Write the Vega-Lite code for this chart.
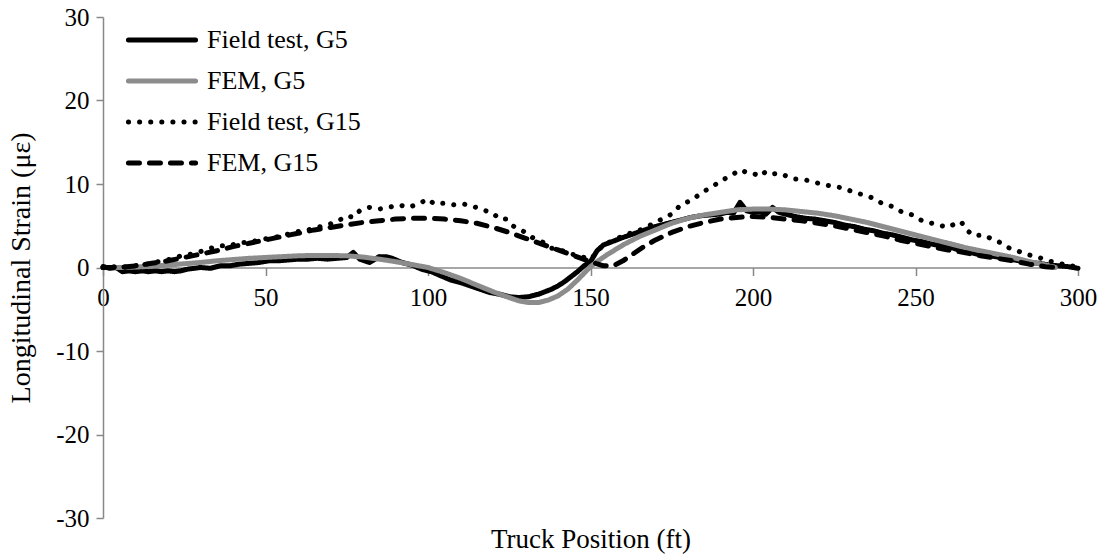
{
  "$schema": "https://vega.github.io/schema/vega-lite/v6.json",
  "width": 975,
  "height": 501,
  "autosize": {"type": "none"},
  "padding": {"left": 103, "top": 17, "right": 30, "bottom": 39},
  "background": "white",
  "config": {
    "font": "Liberation Serif",
    "view": {"stroke": null},
    "axis": {"grid": false, "domainColor": "#888888", "tickColor": "#888888", "domainWidth": 1.5, "tickWidth": 1.5, "labelColor": "black", "titleColor": "black", "labelFont": "Liberation Serif", "titleFont": "Liberation Serif", "titleFontWeight": "normal"},
    "legend": {"labelFont": "Liberation Serif", "labelColor": "black"}
  },
  "datasets": {
    "d": [
      {"s":"Field test, G5","x":0,"y":0.1},{"s":"Field test, G5","x":2,"y":-0.1},{"s":"Field test, G5","x":4,"y":0.0},{"s":"Field test, G5","x":6,"y":-0.5},{"s":"Field test, G5","x":8,"y":-0.4},{"s":"Field test, G5","x":10,"y":-0.5},{"s":"Field test, G5","x":12,"y":-0.4},{"s":"Field test, G5","x":14,"y":-0.5},{"s":"Field test, G5","x":16,"y":-0.4},{"s":"Field test, G5","x":18,"y":-0.5},{"s":"Field test, G5","x":20,"y":-0.4},{"s":"Field test, G5","x":22,"y":-0.5},{"s":"Field test, G5","x":24,"y":-0.4},{"s":"Field test, G5","x":26,"y":-0.2},{"s":"Field test, G5","x":28,"y":-0.1},{"s":"Field test, G5","x":30,"y":0.0},{"s":"Field test, G5","x":33,"y":-0.1},{"s":"Field test, G5","x":36,"y":0.2},{"s":"Field test, G5","x":39,"y":0.2},{"s":"Field test, G5","x":42,"y":0.4},{"s":"Field test, G5","x":45,"y":0.5},{"s":"Field test, G5","x":48,"y":0.6},{"s":"Field test, G5","x":51,"y":0.8},{"s":"Field test, G5","x":54,"y":0.8},{"s":"Field test, G5","x":57,"y":0.9},{"s":"Field test, G5","x":60,"y":1.0},{"s":"Field test, G5","x":63,"y":1.0},{"s":"Field test, G5","x":66,"y":1.1},{"s":"Field test, G5","x":69,"y":1.0},{"s":"Field test, G5","x":72,"y":1.1},{"s":"Field test, G5","x":75,"y":1.2},{"s":"Field test, G5","x":77,"y":1.8},{"s":"Field test, G5","x":79,"y":1.0},{"s":"Field test, G5","x":82,"y":0.6},{"s":"Field test, G5","x":85,"y":1.3},{"s":"Field test, G5","x":87,"y":1.3},{"s":"Field test, G5","x":89,"y":1.1},{"s":"Field test, G5","x":92,"y":0.6},{"s":"Field test, G5","x":95,"y":0.3},{"s":"Field test, G5","x":98,"y":-0.2},{"s":"Field test, G5","x":101,"y":-0.5},{"s":"Field test, G5","x":104,"y":-1.0},{"s":"Field test, G5","x":107,"y":-1.5},{"s":"Field test, G5","x":110,"y":-1.8},{"s":"Field test, G5","x":113,"y":-2.2},{"s":"Field test, G5","x":116,"y":-2.6},{"s":"Field test, G5","x":119,"y":-3.0},{"s":"Field test, G5","x":122,"y":-3.2},{"s":"Field test, G5","x":125,"y":-3.5},{"s":"Field test, G5","x":128,"y":-3.6},{"s":"Field test, G5","x":131,"y":-3.5},{"s":"Field test, G5","x":134,"y":-3.2},{"s":"Field test, G5","x":136,"y":-2.9},{"s":"Field test, G5","x":138,"y":-2.6},{"s":"Field test, G5","x":140,"y":-2.2},{"s":"Field test, G5","x":142,"y":-1.7},{"s":"Field test, G5","x":144,"y":-1.1},{"s":"Field test, G5","x":146,"y":-0.5},{"s":"Field test, G5","x":148,"y":0.2},{"s":"Field test, G5","x":150,"y":0.7},{"s":"Field test, G5","x":152,"y":2.0},{"s":"Field test, G5","x":154,"y":2.7},{"s":"Field test, G5","x":156,"y":3.0},{"s":"Field test, G5","x":158,"y":3.3},{"s":"Field test, G5","x":160,"y":3.6},{"s":"Field test, G5","x":163,"y":4.0},{"s":"Field test, G5","x":166,"y":4.4},{"s":"Field test, G5","x":169,"y":4.8},{"s":"Field test, G5","x":172,"y":5.1},{"s":"Field test, G5","x":175,"y":5.4},{"s":"Field test, G5","x":178,"y":5.7},{"s":"Field test, G5","x":181,"y":6.0},{"s":"Field test, G5","x":184,"y":6.2},{"s":"Field test, G5","x":187,"y":6.3},{"s":"Field test, G5","x":190,"y":6.4},{"s":"Field test, G5","x":192,"y":6.6},{"s":"Field test, G5","x":194,"y":6.5},{"s":"Field test, G5","x":196,"y":7.8},{"s":"Field test, G5","x":198,"y":6.8},{"s":"Field test, G5","x":200,"y":6.6},{"s":"Field test, G5","x":202,"y":6.7},{"s":"Field test, G5","x":204,"y":6.4},{"s":"Field test, G5","x":206,"y":7.2},{"s":"Field test, G5","x":208,"y":6.6},{"s":"Field test, G5","x":210,"y":6.4},{"s":"Field test, G5","x":213,"y":6.1},{"s":"Field test, G5","x":216,"y":5.9},{"s":"Field test, G5","x":219,"y":5.8},{"s":"Field test, G5","x":222,"y":5.6},{"s":"Field test, G5","x":225,"y":5.4},{"s":"Field test, G5","x":228,"y":5.1},{"s":"Field test, G5","x":231,"y":4.9},{"s":"Field test, G5","x":234,"y":4.6},{"s":"Field test, G5","x":237,"y":4.4},{"s":"Field test, G5","x":240,"y":4.1},{"s":"Field test, G5","x":243,"y":3.9},{"s":"Field test, G5","x":246,"y":3.6},{"s":"Field test, G5","x":249,"y":3.3},{"s":"Field test, G5","x":252,"y":3.1},{"s":"Field test, G5","x":255,"y":2.8},{"s":"Field test, G5","x":258,"y":2.6},{"s":"Field test, G5","x":261,"y":2.4},{"s":"Field test, G5","x":264,"y":2.0},{"s":"Field test, G5","x":267,"y":1.8},{"s":"Field test, G5","x":270,"y":1.5},{"s":"Field test, G5","x":273,"y":1.4},{"s":"Field test, G5","x":276,"y":1.2},{"s":"Field test, G5","x":279,"y":1.0},{"s":"Field test, G5","x":282,"y":0.8},{"s":"Field test, G5","x":285,"y":0.6},{"s":"Field test, G5","x":288,"y":0.5},{"s":"Field test, G5","x":291,"y":0.3},{"s":"Field test, G5","x":294,"y":0.2},{"s":"Field test, G5","x":297,"y":0.1},{"s":"Field test, G5","x":300,"y":-0.1},

      {"s":"FEM, G5","x":0,"y":0},{"s":"FEM, G5","x":5,"y":0.0},{"s":"FEM, G5","x":10,"y":0.05},{"s":"FEM, G5","x":15,"y":0.15},{"s":"FEM, G5","x":20,"y":0.3},{"s":"FEM, G5","x":25,"y":0.45},{"s":"FEM, G5","x":30,"y":0.6},{"s":"FEM, G5","x":35,"y":0.8},{"s":"FEM, G5","x":40,"y":0.95},{"s":"FEM, G5","x":45,"y":1.1},{"s":"FEM, G5","x":50,"y":1.2},{"s":"FEM, G5","x":55,"y":1.3},{"s":"FEM, G5","x":60,"y":1.4},{"s":"FEM, G5","x":65,"y":1.45},{"s":"FEM, G5","x":70,"y":1.45},{"s":"FEM, G5","x":75,"y":1.4},{"s":"FEM, G5","x":80,"y":1.25},{"s":"FEM, G5","x":85,"y":1.0},{"s":"FEM, G5","x":90,"y":0.7},{"s":"FEM, G5","x":95,"y":0.35},{"s":"FEM, G5","x":100,"y":0.0},{"s":"FEM, G5","x":105,"y":-0.6},{"s":"FEM, G5","x":110,"y":-1.3},{"s":"FEM, G5","x":115,"y":-2.1},{"s":"FEM, G5","x":120,"y":-2.9},{"s":"FEM, G5","x":125,"y":-3.6},{"s":"FEM, G5","x":128,"y":-4.0},{"s":"FEM, G5","x":131,"y":-4.2},{"s":"FEM, G5","x":134,"y":-4.2},{"s":"FEM, G5","x":137,"y":-3.9},{"s":"FEM, G5","x":140,"y":-3.4},{"s":"FEM, G5","x":143,"y":-2.6},{"s":"FEM, G5","x":146,"y":-1.5},{"s":"FEM, G5","x":148,"y":-0.7},{"s":"FEM, G5","x":150,"y":0.1},{"s":"FEM, G5","x":152,"y":0.7},{"s":"FEM, G5","x":155,"y":1.5},{"s":"FEM, G5","x":160,"y":2.7},{"s":"FEM, G5","x":165,"y":3.7},{"s":"FEM, G5","x":170,"y":4.5},{"s":"FEM, G5","x":175,"y":5.3},{"s":"FEM, G5","x":180,"y":5.9},{"s":"FEM, G5","x":185,"y":6.3},{"s":"FEM, G5","x":190,"y":6.6},{"s":"FEM, G5","x":195,"y":6.9},{"s":"FEM, G5","x":200,"y":7.0},{"s":"FEM, G5","x":205,"y":7.0},{"s":"FEM, G5","x":210,"y":6.9},{"s":"FEM, G5","x":215,"y":6.7},{"s":"FEM, G5","x":220,"y":6.5},{"s":"FEM, G5","x":225,"y":6.2},{"s":"FEM, G5","x":230,"y":5.8},{"s":"FEM, G5","x":235,"y":5.4},{"s":"FEM, G5","x":240,"y":4.9},{"s":"FEM, G5","x":245,"y":4.4},{"s":"FEM, G5","x":250,"y":3.9},{"s":"FEM, G5","x":255,"y":3.4},{"s":"FEM, G5","x":260,"y":2.9},{"s":"FEM, G5","x":265,"y":2.4},{"s":"FEM, G5","x":270,"y":2.0},{"s":"FEM, G5","x":275,"y":1.6},{"s":"FEM, G5","x":280,"y":1.2},{"s":"FEM, G5","x":285,"y":0.7},{"s":"FEM, G5","x":290,"y":0.3},{"s":"FEM, G5","x":293,"y":0.0},

      {"s":"Field test, G15","x":0,"y":0.0},{"s":"Field test, G15","x":3,"y":0.1},{"s":"Field test, G15","x":6,"y":0.0},{"s":"Field test, G15","x":9,"y":0.2},{"s":"Field test, G15","x":12,"y":0.3},{"s":"Field test, G15","x":15,"y":0.5},{"s":"Field test, G15","x":18,"y":0.8},{"s":"Field test, G15","x":21,"y":1.0},{"s":"Field test, G15","x":24,"y":1.4},{"s":"Field test, G15","x":27,"y":1.6},{"s":"Field test, G15","x":30,"y":1.9},{"s":"Field test, G15","x":33,"y":2.3},{"s":"Field test, G15","x":36,"y":2.6},{"s":"Field test, G15","x":39,"y":2.6},{"s":"Field test, G15","x":42,"y":3.0},{"s":"Field test, G15","x":45,"y":3.0},{"s":"Field test, G15","x":48,"y":3.3},{"s":"Field test, G15","x":51,"y":3.5},{"s":"Field test, G15","x":54,"y":3.7},{"s":"Field test, G15","x":57,"y":4.0},{"s":"Field test, G15","x":60,"y":4.3},{"s":"Field test, G15","x":63,"y":4.5},{"s":"Field test, G15","x":66,"y":4.8},{"s":"Field test, G15","x":69,"y":5.1},{"s":"Field test, G15","x":72,"y":5.5},{"s":"Field test, G15","x":75,"y":6.2},{"s":"Field test, G15","x":77,"y":6.0},{"s":"Field test, G15","x":79,"y":6.8},{"s":"Field test, G15","x":82,"y":7.2},{"s":"Field test, G15","x":85,"y":7.0},{"s":"Field test, G15","x":88,"y":7.2},{"s":"Field test, G15","x":91,"y":7.5},{"s":"Field test, G15","x":94,"y":7.2},{"s":"Field test, G15","x":97,"y":7.6},{"s":"Field test, G15","x":100,"y":8.2},{"s":"Field test, G15","x":102,"y":7.6},{"s":"Field test, G15","x":105,"y":7.7},{"s":"Field test, G15","x":108,"y":7.5},{"s":"Field test, G15","x":111,"y":7.6},{"s":"Field test, G15","x":114,"y":7.3},{"s":"Field test, G15","x":117,"y":6.9},{"s":"Field test, G15","x":120,"y":6.5},{"s":"Field test, G15","x":122,"y":5.8},{"s":"Field test, G15","x":124,"y":5.8},{"s":"Field test, G15","x":126,"y":5.0},{"s":"Field test, G15","x":128,"y":4.6},{"s":"Field test, G15","x":130,"y":4.2},{"s":"Field test, G15","x":132,"y":3.6},{"s":"Field test, G15","x":134,"y":3.3},{"s":"Field test, G15","x":136,"y":2.9},{"s":"Field test, G15","x":138,"y":2.3},{"s":"Field test, G15","x":140,"y":2.2},{"s":"Field test, G15","x":142,"y":1.9},{"s":"Field test, G15","x":144,"y":1.6},{"s":"Field test, G15","x":146,"y":1.5},{"s":"Field test, G15","x":148,"y":1.2},{"s":"Field test, G15","x":150,"y":1.0},{"s":"Field test, G15","x":152,"y":1.8},{"s":"Field test, G15","x":154,"y":2.8},{"s":"Field test, G15","x":157,"y":3.2},{"s":"Field test, G15","x":160,"y":3.8},{"s":"Field test, G15","x":163,"y":4.2},{"s":"Field test, G15","x":166,"y":4.6},{"s":"Field test, G15","x":169,"y":5.2},{"s":"Field test, G15","x":172,"y":5.8},{"s":"Field test, G15","x":175,"y":6.4},{"s":"Field test, G15","x":178,"y":7.6},{"s":"Field test, G15","x":181,"y":8.0},{"s":"Field test, G15","x":184,"y":8.9},{"s":"Field test, G15","x":187,"y":9.6},{"s":"Field test, G15","x":190,"y":10.3},{"s":"Field test, G15","x":192,"y":10.8},{"s":"Field test, G15","x":194,"y":11.2},{"s":"Field test, G15","x":196,"y":11.7},{"s":"Field test, G15","x":198,"y":11.4},{"s":"Field test, G15","x":200,"y":11.3},{"s":"Field test, G15","x":202,"y":10.9},{"s":"Field test, G15","x":204,"y":11.5},{"s":"Field test, G15","x":206,"y":11.2},{"s":"Field test, G15","x":208,"y":11.3},{"s":"Field test, G15","x":210,"y":11.0},{"s":"Field test, G15","x":213,"y":10.6},{"s":"Field test, G15","x":216,"y":10.5},{"s":"Field test, G15","x":219,"y":10.2},{"s":"Field test, G15","x":222,"y":9.9},{"s":"Field test, G15","x":225,"y":9.7},{"s":"Field test, G15","x":228,"y":9.5},{"s":"Field test, G15","x":231,"y":9.0},{"s":"Field test, G15","x":234,"y":8.7},{"s":"Field test, G15","x":237,"y":8.3},{"s":"Field test, G15","x":240,"y":7.6},{"s":"Field test, G15","x":243,"y":7.3},{"s":"Field test, G15","x":246,"y":6.6},{"s":"Field test, G15","x":249,"y":6.3},{"s":"Field test, G15","x":252,"y":5.6},{"s":"Field test, G15","x":255,"y":5.3},{"s":"Field test, G15","x":258,"y":5.0},{"s":"Field test, G15","x":260,"y":4.8},{"s":"Field test, G15","x":262,"y":5.2},{"s":"Field test, G15","x":264,"y":5.5},{"s":"Field test, G15","x":266,"y":4.4},{"s":"Field test, G15","x":268,"y":3.8},{"s":"Field test, G15","x":271,"y":3.9},{"s":"Field test, G15","x":274,"y":3.3},{"s":"Field test, G15","x":276,"y":3.0},{"s":"Field test, G15","x":279,"y":2.3},{"s":"Field test, G15","x":282,"y":1.9},{"s":"Field test, G15","x":285,"y":1.5},{"s":"Field test, G15","x":288,"y":1.2},{"s":"Field test, G15","x":291,"y":0.8},{"s":"Field test, G15","x":294,"y":0.5},{"s":"Field test, G15","x":297,"y":0.3},{"s":"Field test, G15","x":300,"y":0.0},

      {"s":"FEM, G15","x":0,"y":0},{"s":"FEM, G15","x":5,"y":0.0},{"s":"FEM, G15","x":10,"y":0.2},{"s":"FEM, G15","x":15,"y":0.5},{"s":"FEM, G15","x":20,"y":0.8},{"s":"FEM, G15","x":25,"y":1.2},{"s":"FEM, G15","x":30,"y":1.6},{"s":"FEM, G15","x":35,"y":2.0},{"s":"FEM, G15","x":40,"y":2.5},{"s":"FEM, G15","x":45,"y":2.9},{"s":"FEM, G15","x":50,"y":3.3},{"s":"FEM, G15","x":55,"y":3.7},{"s":"FEM, G15","x":60,"y":4.1},{"s":"FEM, G15","x":65,"y":4.5},{"s":"FEM, G15","x":70,"y":4.8},{"s":"FEM, G15","x":75,"y":5.1},{"s":"FEM, G15","x":80,"y":5.4},{"s":"FEM, G15","x":85,"y":5.6},{"s":"FEM, G15","x":90,"y":5.8},{"s":"FEM, G15","x":95,"y":5.9},{"s":"FEM, G15","x":100,"y":5.9},{"s":"FEM, G15","x":105,"y":5.8},{"s":"FEM, G15","x":110,"y":5.6},{"s":"FEM, G15","x":115,"y":5.3},{"s":"FEM, G15","x":120,"y":4.8},{"s":"FEM, G15","x":125,"y":4.2},{"s":"FEM, G15","x":130,"y":3.5},{"s":"FEM, G15","x":135,"y":2.8},{"s":"FEM, G15","x":140,"y":2.1},{"s":"FEM, G15","x":145,"y":1.4},{"s":"FEM, G15","x":150,"y":0.7},{"s":"FEM, G15","x":154,"y":0.2},{"s":"FEM, G15","x":157,"y":0.2},{"s":"FEM, G15","x":160,"y":0.8},{"s":"FEM, G15","x":163,"y":1.6},{"s":"FEM, G15","x":166,"y":2.4},{"s":"FEM, G15","x":170,"y":3.3},{"s":"FEM, G15","x":175,"y":4.2},{"s":"FEM, G15","x":180,"y":4.9},{"s":"FEM, G15","x":185,"y":5.4},{"s":"FEM, G15","x":190,"y":5.8},{"s":"FEM, G15","x":195,"y":6.0},{"s":"FEM, G15","x":200,"y":6.1},{"s":"FEM, G15","x":205,"y":6.0},{"s":"FEM, G15","x":210,"y":5.8},{"s":"FEM, G15","x":215,"y":5.6},{"s":"FEM, G15","x":220,"y":5.3},{"s":"FEM, G15","x":225,"y":5.0},{"s":"FEM, G15","x":230,"y":4.6},{"s":"FEM, G15","x":235,"y":4.2},{"s":"FEM, G15","x":240,"y":3.8},{"s":"FEM, G15","x":245,"y":3.3},{"s":"FEM, G15","x":250,"y":2.9},{"s":"FEM, G15","x":255,"y":2.5},{"s":"FEM, G15","x":260,"y":2.1},{"s":"FEM, G15","x":265,"y":1.8},{"s":"FEM, G15","x":270,"y":1.4},{"s":"FEM, G15","x":275,"y":1.1},{"s":"FEM, G15","x":280,"y":0.8},{"s":"FEM, G15","x":285,"y":0.4},{"s":"FEM, G15","x":290,"y":0.1},{"s":"FEM, G15","x":293,"y":0.0}
    ]
  },
  "data": {"name": "d"},
  "encoding": {
    "x": {"field": "x", "type": "quantitative", "scale": {"domain": [0, 300], "nice": false, "zero": false},
      "axis": {"title": "Truck Position (ft)", "values": [0, 50, 100, 150, 200, 250, 300], "offset": -250.5, "tickSize": 8, "labelPadding": 10, "labelFontSize": 25, "titleFontSize": 27, "titleY": 280, "titleBaseline": "alphabetic", "labelFlush": false}},
    "y": {"field": "y", "type": "quantitative", "scale": {"domain": [-30, 30], "nice": false},
      "axis": {"title": "Longitudinal Strain (με)", "values": [-30, -20, -10, 0, 10, 20, 30], "labelExpr": "datum.value + ''", "tickSize": 7, "labelPadding": 7, "labelFontSize": 25, "titleFontSize": 28, "titleX": -68, "labelFlush": false}},
    "color": {"field": "s", "type": "nominal",
      "scale": {"domain": ["Field test, G5", "FEM, G5", "Field test, G15", "FEM, G15"], "range": ["#000000", "#8c8c8c", "#000000", "#000000"]},
      "legend": {"title": null, "orient": "none", "legendX": 45, "legendY": 9, "symbolType": "M-3,0H3", "symbolSize": 500, "symbolStrokeWidth": 5, "symbolFillColor": "transparent", "labelFontSize": 26, "labelOffset": 31, "rowPadding": 14, "padding": 0,
        "encode": {"symbols": {"update": {"strokeCap": {"value": "round"}, "fill": {"value": "transparent"}}}}}},
    "strokeDash": {"field": "s", "type": "nominal",
      "scale": {"domain": ["Field test, G5", "FEM, G5", "Field test, G15", "FEM, G15"], "range": [[1, 0], [1, 0], [0.1, 11], [11, 10]]},
      "legend": {"title": null, "orient": "none", "legendX": 45, "legendY": 9, "symbolType": "M-3,0H3", "symbolSize": 500, "symbolStrokeWidth": 5, "symbolFillColor": "transparent", "labelFontSize": 26, "labelOffset": 31, "rowPadding": 14, "padding": 0,
        "encode": {"symbols": {"update": {"strokeCap": {"value": "round"}, "fill": {"value": "transparent"}}}}}}
  },
  "layer": [
    {"transform": [{"filter": "datum.s === 'Field test, G5'"}], "mark": {"type": "line", "strokeWidth": 5, "strokeCap": "round", "strokeJoin": "round"}},
    {"transform": [{"filter": "datum.s === 'FEM, G5'"}], "mark": {"type": "line", "strokeWidth": 5, "strokeCap": "round", "strokeJoin": "round"}},
    {"transform": [{"filter": "datum.s === 'Field test, G15'"}], "mark": {"type": "line", "strokeWidth": 5, "strokeCap": "round", "strokeJoin": "round"}},
    {"transform": [{"filter": "datum.s === 'FEM, G15'"}], "mark": {"type": "line", "strokeWidth": 5, "strokeCap": "round", "strokeJoin": "round"}}
  ]
}
